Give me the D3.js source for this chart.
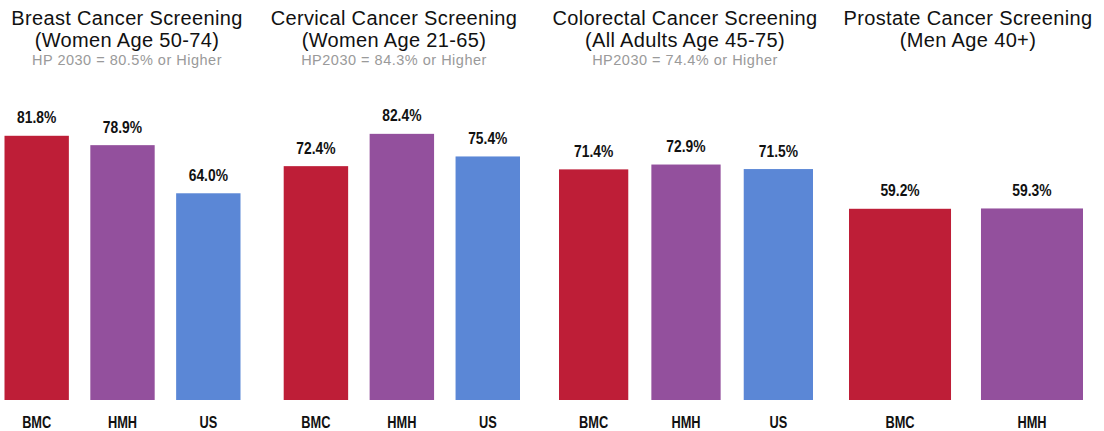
<!DOCTYPE html>
<html>
<head>
<meta charset="utf-8">
<script src="https://cdn.jsdelivr.net/npm/d3@7"></script>
<style>
  html, body { margin: 0; padding: 0; background: #fff; }
  svg { display: block; }
</style>
</head>
<body>
<svg id="chart" width="1104" height="431"></svg>
<script>
// ---- data ----
const panelTitles = ["Breast Cancer Screening", "Cervical Cancer Screening", "Colorectal Cancer Screening", "Prostate Cancer Screening"];
const panelSubtitles = ["(Women Age 50-74)", "(Women Age 21-65)", "(All Adults Age 45-75)", "(Men Age 40+)"];
const hpTargets = ["HP 2030 = 80.5% or Higher", "HP2030 = 84.3% or Higher", "HP2030 = 74.4% or Higher", ""];
const breastCategories = ["BMC", "HMH", "US"];
const breastValues = [81.8, 78.9, 64.0];
const cervicalCategories = ["BMC", "HMH", "US"];
const cervicalValues = [72.4, 82.4, 75.4];
const colorectalCategories = ["BMC", "HMH", "US"];
const colorectalValues = [71.4, 72.9, 71.5];
const prostateCategories = ["BMC", "HMH"];
const prostateValues = [59.2, 59.3];

// ---- layout / style ----
const colorMap = { BMC: "#BE1E37", HMH: "#93509D", US: "#5B87D6" };
const panelLayout = [
  { x0: 4.5, x1: 240.5, pad: 0.25, titleX: 127 },
  { x0: 283.7, x1: 520, pad: 0.25, titleX: 394 },
  { x0: 559, x1: 813, pad: 0.25, titleX: 685 },
  { x0: 849, x1: 1083, pad: 0.227, titleX: 968 }
];
const panels = [
  { cats: breastCategories, vals: breastValues },
  { cats: cervicalCategories, vals: cervicalValues },
  { cats: colorectalCategories, vals: colorectalValues },
  { cats: prostateCategories, vals: prostateValues }
];

const svg = d3.select("#chart");
const y = d3.scaleLinear().domain([0, 100]).range([400, 77]);
const sans = "'Liberation Sans', Arial, sans-serif";

panels.forEach((p, i) => {
  const L = panelLayout[i];
  const x = d3.scaleBand().domain(p.cats).range([L.x0, L.x1]).paddingInner(L.pad).paddingOuter(0);
  const g = svg.append("g");
  const rows = p.cats.map((c, j) => ({ cat: c, val: p.vals[j] }));

  // titles
  g.append("text").attr("x", L.titleX).attr("y", 25).attr("text-anchor", "middle")
    .attr("font-family", sans).attr("font-size", 20).attr("letter-spacing", 0.35).attr("fill", "#111")
    .text(panelTitles[i]);
  g.append("text").attr("x", L.titleX).attr("y", 47).attr("text-anchor", "middle")
    .attr("font-family", sans).attr("font-size", 20).attr("letter-spacing", 0.35).attr("fill", "#111")
    .text(panelSubtitles[i]);
  if (hpTargets[i]) {
    g.append("text").attr("x", L.titleX).attr("y", 65).attr("text-anchor", "middle")
      .attr("font-family", sans).attr("font-size", 14.5).attr("letter-spacing", 0.5).attr("fill", "#9a9a9a")
      .text(hpTargets[i]);
  }

  // bars
  g.selectAll("rect.bar").data(rows).join("rect")
    .attr("class", "bar")
    .attr("x", d => x(d.cat))
    .attr("width", x.bandwidth())
    .attr("y", d => y(d.val))
    .attr("height", d => y(0) - y(d.val))
    .attr("fill", d => colorMap[d.cat]);

  // value labels (condensed bold)
  g.selectAll("text.val").data(rows).join("text")
    .attr("class", "val")
    .attr("transform", d => `translate(${x(d.cat) + x.bandwidth() / 2},${y(d.val) - 12.5}) scale(0.84,1)`)
    .attr("text-anchor", "middle")
    .attr("font-family", sans).attr("font-weight", "bold").attr("font-size", 16.5)
    .attr("fill", "#111")
    .text(d => d.val.toFixed(1) + "%");

  // category axis labels
  const axis = d3.axisBottom(x).tickSize(0).tickPadding(0);
  const ax = g.append("g").attr("transform", "translate(0,428)").call(axis);
  ax.select(".domain").remove();
  ax.selectAll("text")
    .attr("dy", 0).attr("y", 0)
    .attr("transform", "scale(0.8,1)")
    .attr("font-family", sans).attr("font-weight", "bold").attr("font-size", 16)
    .attr("fill", "#111");
});
</script>
</body>
</html>
